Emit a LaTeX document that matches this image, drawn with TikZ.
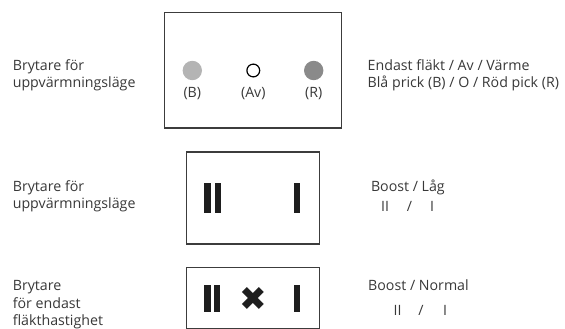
\documentclass[tikz,border=0pt]{standalone}
\usepackage{fontspec}
\setmainfont{Open Sans}
\newfontfamily\symfont{DejaVu Sans}
\definecolor{frame}{HTML}{3C3C3C}
\definecolor{txt}{HTML}{383838}
\definecolor{barc}{HTML}{1E1E1E}
\definecolor{dotblue}{HTML}{B4B4B4}
\definecolor{dotred}{HTML}{8A8A8A}
\begin{document}
\begin{tikzpicture}[x=1pt,y=-1pt,
  lbl/.style={anchor=base west, inner sep=0pt, text=txt, font=\fontsize{14.2}{17}\selectfont},
  mid/.style={anchor=base, inner sep=0pt, text=txt, font=\fontsize{14.2}{17}\selectfont},
  panel/.style={draw=frame, line width=1.3pt},
  bar/.style={fill=barc},
]
\useasboundingbox (0,0) rectangle (565,329);

% --- top switch: three-position mode selector
\draw[panel] (164.3,12.7) rectangle (341.7,128);
\fill[dotblue] (192.3,70.5) circle (9.7);
\draw[line width=1.2pt, black] (253.3,70.5) circle (6.4);
\fill[dotred] (313.7,70.5) circle (9.7);
\node[mid] (cb) at (192.3,97.5) {(B)};
\node[mid] (cav) at (253.3,97.5) {(Av)};
\node[mid] (cr) at (313.7,97.5) {(R)};

\node[lbl] (l1a) at (12.6,70.7) {Brytare för};
\node[lbl] (l1b) at (12.6,87.5) {uppvärmningsläge};
\node[lbl] (r1a) at (367.5,70.7) {Endast fläkt / Av / Värme};
\node[lbl] (r1b) at (367.5,87.5) {Blå prick (B) / O / Röd pick (R)};

% --- middle switch: boost / low
\draw[panel] (186.7,152) rectangle (319.7,244);
\fill[bar] (204,182.7) rectangle (210.5,213.3);
\fill[bar] (214.8,182.7) rectangle (221,213.3);
\fill[bar] (294.3,182.7) rectangle (300,213.3);

\node[lbl] (l2a) at (12.6,191.7) {Brytare för};
\node[lbl] (l2b) at (12.6,208.5) {uppvärmningsläge};
\node[lbl] (r2a) at (370.8,191.7) {Boost / Låg};
\node[mid] (r2b) at (385,211.7) {II};
\node[mid] (r2c) at (409.5,211.7) {/};
\node[mid] (r2d) at (432,211.7) {I};

% --- bottom switch: fan speed only
\draw[panel] (186.7,267.7) rectangle (319.7,328.5);
\fill[bar] (203.5,285) rectangle (210.5,311.5);
\fill[bar] (213.5,285) rectangle (220,311.5);
\fill[bar] (294.3,285) rectangle (300,311.5);
\node[inner sep=0pt, text=barc, font=\symfont\fontsize{33}{33}\selectfont] (xm) at (253.5,299) {✖};

\node[lbl] (l3a) at (12.6,290.7) {Brytare};
\node[lbl] (l3b) at (12.6,308.3) {för endast};
\node[lbl] (l3c) at (12.6,325.7) {fläkthastighet};
\node[lbl] (r3a) at (368,290.7) {Boost / Normal};
\node[mid] (r3b) at (397.6,315) {II};
\node[mid] (r3c) at (421,315) {/};
\node[mid] (r3d) at (445,315) {I};
\end{tikzpicture}
\end{document}
